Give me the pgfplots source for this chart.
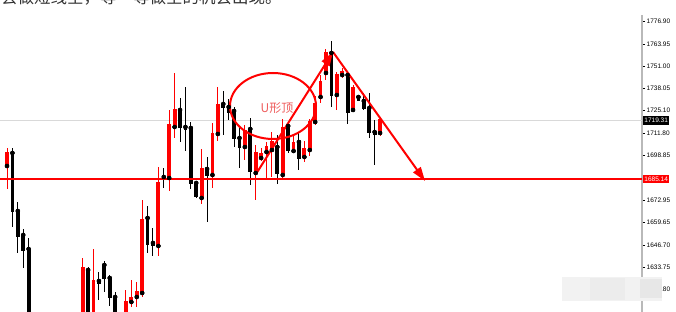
\documentclass[border=0pt]{standalone}
\usepackage{fontspec}
\setmainfont{Liberation Sans}
\newfontfamily\cjk{Noto Sans CJK SC}
\usepackage{pgfplots}
\pgfplotsset{compat=1.18}
\usepackage{pgfplotstable}
\usetikzlibrary{arrows.meta}
\definecolor{ulabel}{RGB}{238,92,92}
\definecolor{axgray}{RGB}{185,185,185}

\pgfplotstableread{
i o h l c
0 1692.73 1703.23 1679.32 1700.32
14 1597.00 1639.07 1590.00 1633.24
16 1597.00 1644.32 1590.00 1625.65
22 1600.00 1620.40 1595.00 1613.40
23 1613.40 1626.24 1610.49 1615.74
24 1616.32 1625.07 1610.49 1619.24
25 1618.65 1672.90 1616.32 1661.23
28 1646.07 1692.15 1640.24 1682.82
30 1685.73 1725.40 1678.15 1716.65
31 1715.48 1746.98 1709.06 1725.40
36 1674.07 1702.65 1670.57 1690.98
38 1687.48 1717.81 1679.90 1711.40
39 1711.40 1738.81 1707.31 1728.31
44 1703.81 1716.65 1696.23 1713.15
46 1688.65 1704.98 1672.90 1700.32
47 1697.40 1703.23 1695.65 1699.73
48 1700.90 1706.73 1685.73 1703.81
49 1702.06 1712.56 1686.32 1706.73
51 1687.48 1720.15 1685.15 1714.90
53 1701.48 1710.81 1700.32 1706.15
55 1697.98 1707.31 1695.07 1702.65
56 1702.06 1720.15 1698.56 1718.40
57 1718.40 1733.56 1716.65 1728.90
58 1732.98 1745.81 1729.48 1741.73
59 1746.98 1760.98 1742.90 1758.65
61 1734.15 1747.56 1725.40 1745.81
62 1745.81 1749.90 1744.06 1747.56
64 1725.40 1739.98 1724.23 1738.23
69 1711.98 1720.73 1710.23 1719.31
}\redtab

\pgfplotstableread{
i o h l c
1 1700.32 1703.23 1657.15 1666.48
2 1666.48 1671.73 1641.99 1651.90
3 1652.48 1655.98 1633.24 1643.73
4 1644.32 1650.73 1590.00 1597.00
15 1632.07 1633.82 1590.00 1597.00
17 1625.65 1630.90 1614.57 1624.49
18 1634.99 1637.32 1619.24 1627.40
19 1627.40 1629.15 1611.07 1616.32
20 1616.32 1619.24 1590.00 1597.00
26 1662.40 1669.40 1641.99 1647.23
27 1647.82 1656.57 1640.24 1646.65
29 1686.32 1691.57 1679.90 1685.44
32 1725.40 1732.40 1706.73 1715.48
33 1715.48 1738.81 1701.48 1714.61
34 1714.90 1718.40 1679.32 1682.82
35 1682.82 1683.40 1674.07 1675.23
37 1690.98 1697.98 1660.07 1687.48
40 1728.90 1736.48 1710.81 1727.15
41 1727.15 1731.81 1719.56 1724.23
42 1724.81 1727.15 1703.81 1709.06
43 1709.06 1714.90 1691.57 1703.81
45 1714.31 1720.73 1681.65 1689.82
50 1703.81 1710.81 1682.23 1688.65
52 1716.06 1718.98 1700.32 1702.06
54 1706.73 1711.98 1690.40 1697.40
60 1758.65 1765.64 1727.15 1734.15
63 1745.81 1747.56 1717.23 1724.23
65 1732.98 1733.56 1730.65 1731.23
66 1730.65 1735.31 1725.40 1726.56
67 1726.56 1735.31 1709.06 1712.56
68 1712.56 1719.56 1693.32 1711.40
}\blacktab

\begin{document}
\begin{tikzpicture}
\useasboundingbox (0pt,0pt) rectangle (676pt,312pt);
\node[anchor=base west, inner sep=0pt, text=black!80] at (1pt,308.5pt) {\cjk\fontsize{16.5}{18}\selectfont 会做短线空，等一等做空的机会出现。};
\begin{axis}[
  at={(0pt,0pt)}, anchor=south west,
  width=642pt, height=297pt, scale only axis,
  xmin=-1.295, xmax=117.45, ymin=1607.57, ymax=1780.81,
  axis x line=none, axis y line*=right,
  axis line style={draw=axgray, line width=1.8pt},
  tick align=outside,
  major tick length=3pt,
  ytick style={black, line width=0.7pt},
  ytick={1776.90,1763.95,1751.00,1738.05,1725.10,1711.80,1698.85,1672.95,1659.65,1646.70,1633.75,1620.80},
  yticklabels={1776.90,1763.95,1751.00,1738.05,1725.10,1711.80,1698.85,1672.95,1659.65,1646.70,1633.75,1620.80},
  yticklabel style={font=\fontsize{6.5}{7}\selectfont, anchor=west, inner sep=0pt, xshift=1.5pt},
  xtick=\empty,
  clip=true,
]
\addplot[gray!30, line width=0.8pt, forget plot] coordinates {(-1.295,1719.31) (117.45,1719.31)};
% red wicks
\addplot[only marks, mark=none, forget plot, error bars/.cd, y dir=both, y explicit, error mark=none,
  error bar style={red, line width=1pt}]
  table[x=i, y=o, y error plus expr=\thisrow{h}-\thisrow{o}, y error minus expr=\thisrow{o}-\thisrow{l}] {\redtab};
% black wicks
\addplot[only marks, mark=none, forget plot, error bars/.cd, y dir=both, y explicit, error mark=none,
  error bar style={black, line width=1pt}]
  table[x=i, y=o, y error plus expr=\thisrow{h}-\thisrow{o}, y error minus expr=\thisrow{o}-\thisrow{l}] {\blacktab};
% red bodies
\addplot[only marks, mark=none, forget plot, error bars/.cd, y dir=plus, y explicit, error mark=none,
  error bar style={red, line width=3.8pt}]
  table[x=i, y=o, y error plus expr=\thisrow{c}-\thisrow{o}+0.6] {\redtab};
% black bodies
\addplot[only marks, mark=none, forget plot, error bars/.cd, y dir=minus, y explicit, error mark=none,
  error bar style={black, line width=3.8pt}]
  table[x=i, y=o, y error minus expr=\thisrow{o}-\thisrow{c}+0.6] {\blacktab};
% support line
\addplot[red, line width=1.5pt, forget plot] coordinates {(-1.295,1685.14) (117.45,1685.14)};
% annotations
\draw[red, line width=2pt] (axis cs:49.2,1727.73) ellipse [x radius=43pt, y radius=33pt];
\node[text=ulabel, inner sep=0pt] at (axis cs:49.94,1726.56) {\cjk\fontsize{12}{12}\selectfont U形顶};
\draw[red, line width=2pt, -{Triangle[length=14pt, width=9pt]}] (axis cs:46.06,1688.07) -- (axis cs:60.30,1759.23);
\draw[red, line width=2pt, -{Triangle[length=14pt, width=9pt]}] (axis cs:60.30,1759.23) -- (axis cs:77.32,1683.98);
\coordinate (L1) at (axis cs:117.45,1719.31);
\coordinate (L2) at (axis cs:117.45,1685.14);
\end{axis}
\node[fill=black, text=white, inner sep=0pt, minimum height=8.5pt, minimum width=26pt, anchor=west,
  font=\fontsize{6.5}{7}\selectfont] at ([xshift=1pt]L1) {1719.31};
\node[fill=red, text=white, inner sep=0pt, minimum height=8.5pt, minimum width=26pt, anchor=west,
  font=\fontsize{6.5}{7}\selectfont] at ([xshift=1pt]L2) {1685.14};
% blurred watermark patch
\fill[gray!10] (562pt,11pt) rectangle (662pt,35pt);
\fill[gray!15] (590pt,12pt) rectangle (625pt,34pt);
\fill[gray!19] (640pt,14pt) rectangle (662pt,33pt);
\end{tikzpicture}
\end{document}
